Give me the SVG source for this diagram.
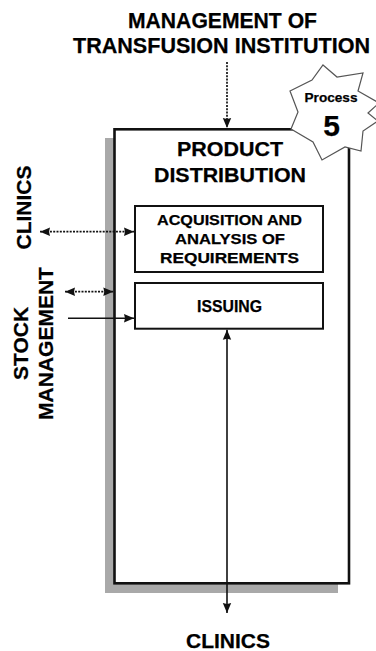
<svg xmlns="http://www.w3.org/2000/svg" width="376" height="651" viewBox="0 0 376 651">
  <style>
    text { font-family: "Liberation Sans", Arial, Helvetica, sans-serif; font-weight: bold; fill: #000; stroke: #000; stroke-width: 0.25; }
    .title { font-size: 21.5px; text-anchor: middle; }
    .side { font-size: 21px; text-anchor: middle; }
    .head { font-size: 20.5px; text-anchor: middle; }
    .sub { font-size: 15px; text-anchor: middle; }
    .box { fill: #fff; stroke: #111; stroke-width: 2; }
    .frame { fill: #fff; stroke: #111; stroke-width: 2.6; }
    .dash { fill: none; stroke: #111; stroke-width: 1.7; stroke-dasharray: 2 1.3; }
    .solid { fill: none; stroke: #111; stroke-width: 1.6; }
  </style>
  <defs>
    <marker id="ah" viewBox="0 0 10 10" refX="10" refY="5" markerWidth="10" markerHeight="10" markerUnits="userSpaceOnUse" orient="auto-start-reverse">
      <path d="M0,0.8 L10,5 L0,9.2 L1,5 Z" fill="#111"/>
    </marker>
  </defs>

  <!-- external source at the top -->
  <g id="management">
    <text class="title" x="222.5" y="28" textLength="189" lengthAdjust="spacingAndGlyphs">MANAGEMENT OF</text>
    <text class="title" x="221.5" y="52.5" textLength="297" lengthAdjust="spacingAndGlyphs">TRANSFUSION INSTITUTION</text>
  </g>

  <!-- process frame with drop shadow -->
  <g id="product-distribution">
    <rect x="105" y="138" width="233" height="455" fill="#a9a9a9"/>
    <rect class="frame" x="114.5" y="129.3" width="234.5" height="454"/>
    <text class="head" x="230" y="156" textLength="106" lengthAdjust="spacingAndGlyphs">PRODUCT</text>
    <text class="head" x="230" y="182" textLength="152" lengthAdjust="spacingAndGlyphs">DISTRIBUTION</text>
  </g>

  <g id="acquisition">
    <rect class="box" x="135" y="206" width="188" height="66"/>
    <text class="sub" x="229.5" y="225" textLength="145" lengthAdjust="spacingAndGlyphs">ACQUISITION AND</text>
    <text class="sub" x="230" y="244" textLength="110" lengthAdjust="spacingAndGlyphs">ANALYSIS OF</text>
    <text class="sub" x="229.5" y="263" textLength="139" lengthAdjust="spacingAndGlyphs">REQUIREMENTS</text>
  </g>

  <g id="issuing">
    <rect class="box" x="135" y="283" width="188" height="45.7"/>
    <text class="sub" x="229.5" y="312" style="font-size:16px" textLength="65" lengthAdjust="spacingAndGlyphs">ISSUING</text>
  </g>

  <!-- process badge -->
  <g id="process-badge">
    <polygon points="323,65 337,77 363,73 358,91 379,103 368,113 378,121 363,131 361,151 345,147 322,160 313,142 291,129 298,112 290,91 312,80"
             fill="#fff" stroke="#555" stroke-width="1.2" stroke-linejoin="miter"/>
    <text x="331" y="101.5" style="font-size:13.6px" text-anchor="middle">Process</text>
    <text x="331.7" y="135.5" style="font-size:30px" text-anchor="middle">5</text>
  </g>

  <!-- side labels -->
  <g id="clinics-left">
    <text class="side" transform="translate(30.5,207.5) rotate(-90)" x="0" y="0">CLINICS</text>
  </g>
  <g id="stock-management">
    <text class="side" transform="translate(28,343.5) rotate(-90)" x="0" y="0">STOCK</text>
    <text class="side" transform="translate(53,343.5) rotate(-90)" x="0" y="0">MANAGEMENT</text>
  </g>
  <g id="clinics-bottom">
    <text class="side" x="228" y="647.5">CLINICS</text>
  </g>

  <!-- connectors -->
  <g id="connectors">
    <line class="dash" x1="227" y1="62" x2="227" y2="128" marker-end="url(#ah)"/>
    <line class="dash" x1="40" y1="231.7" x2="134" y2="231.7" marker-start="url(#ah)" marker-end="url(#ah)"/>
    <line class="dash" x1="65" y1="291.7" x2="113.3" y2="291.7" marker-start="url(#ah)" marker-end="url(#ah)"/>
    <line class="solid" x1="68" y1="318.3" x2="134" y2="318.3" marker-end="url(#ah)"/>
    <line class="solid" x1="227" y1="329.7" x2="227" y2="613" marker-start="url(#ah)" marker-end="url(#ah)"/>
  </g>
</svg>
